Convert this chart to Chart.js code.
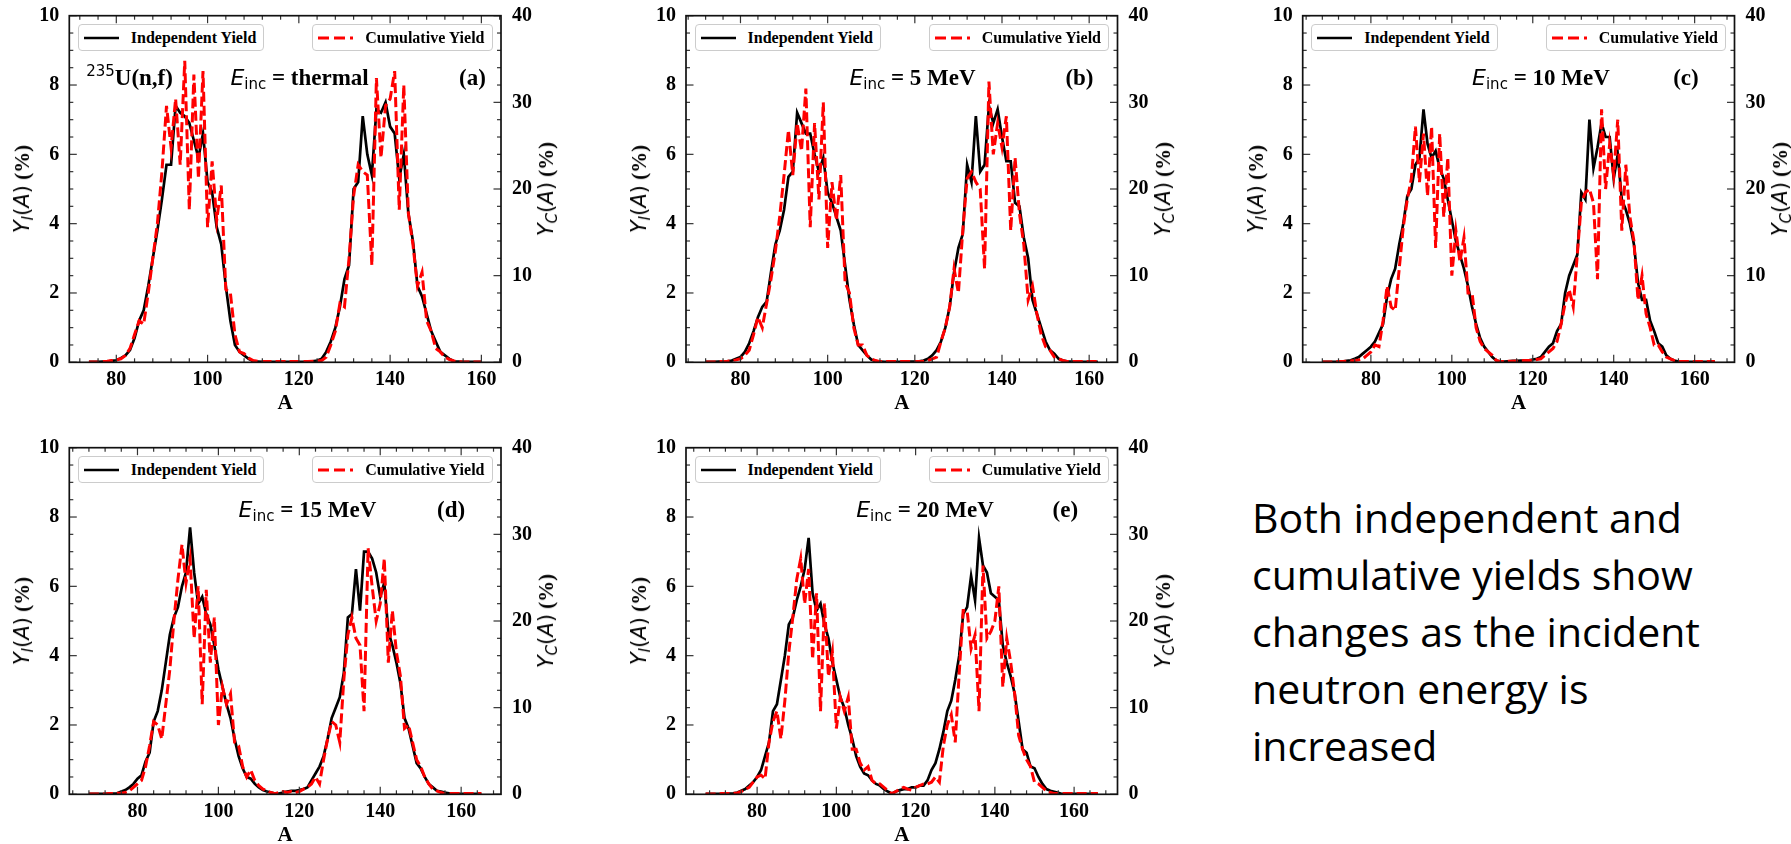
<!DOCTYPE html>
<html><head><meta charset="utf-8">
<script src="https://cdn.jsdelivr.net/npm/chart.js@4/dist/chart.umd.min.js"></script>
<style>
html,body{margin:0;padding:0;background:#fff;}
body{width:1791px;height:844px;overflow:hidden;position:relative;}
.panel{position:absolute;}
.panel canvas{position:absolute;left:0;top:0;}
.serif{font-family:'Liberation Serif','Times New Roman',serif;font-weight:bold;}
.sans{font-family:'DejaVu Sans',sans-serif;font-weight:normal;}
.it{font-style:italic;}
.ann{position:absolute;white-space:nowrap;font-family:'Liberation Serif','Times New Roman',serif;font-weight:bold;font-size:23px;line-height:23px;color:#000;}
.leg{position:absolute;height:27px;border:1px solid #cccccc;border-radius:4px;background:#fff;display:flex;align-items:center;padding:0 7px 0 5px;box-sizing:border-box;}
.leg svg{width:35px;height:6px;margin-right:12px;flex:none;}
.leg span{font-family:'Liberation Serif','Times New Roman',serif;font-weight:bold;font-size:16px;white-space:nowrap;color:#000;}
.ylab{position:absolute;transform:translate(-50%,-50%) rotate(-90deg);white-space:nowrap;font-size:21px;line-height:24px;color:#000;}
.sb{font-size:15px;position:relative;top:4px;}
#note{position:absolute;left:1252px;top:489px;font-family:'Open Sans',sans-serif;font-size:41px;line-height:57px;color:#000;white-space:nowrap;}
</style></head><body>
<div id="note">Both independent and<br>cumulative yields show<br>changes as the incident<br>neutron energy is<br>increased</div>
<script>
// ---------- tick labels ----------
const xTicks = [80, 100, 120, 140, 160];
const yLeftTicks = [0, 2, 4, 6, 8, 10];
const yRightTicks = [0, 10, 20, 30, 40];

// ---------- mass numbers (A) ----------
const massA = [74,75,76,77,78,79,80,81,82,83,84,85,86,87,88,89,90,91,92,93,94,95,96,97,98,99,100,101,102,103,104,105,106,107,108,109,110,111,112,113,114,115,116,117,118,119,120,121,122,123,124,125,126,127,128,129,130,131,132,133,134,135,136,137,138,139,140,141,142,143,144,145,146,147,148,149,150,151,152,153,154,155,156,157,158,159,160];
const massB = [72,73,74,75,76,77,78,79,80,81,82,83,84,85,86,87,88,89,90,91,92,93,94,95,96,97,98,99,100,101,102,103,104,105,106,107,108,109,110,111,112,113,114,115,116,117,118,119,120,121,122,123,124,125,126,127,128,129,130,131,132,133,134,135,136,137,138,139,140,141,142,143,144,145,146,147,148,149,150,151,152,153,154,155,156,157,158,159,160,161,162];
const massCD = [68,69,70,71,72,73,74,75,76,77,78,79,80,81,82,83,84,85,86,87,88,89,90,91,92,93,94,95,96,97,98,99,100,101,102,103,104,105,106,107,108,109,110,111,112,113,114,115,116,117,118,119,120,121,122,123,124,125,126,127,128,129,130,131,132,133,134,135,136,137,138,139,140,141,142,143,144,145,146,147,148,149,150,151,152,153,154,155,156,157,158,159,160,161,162,163,164,165];
const massE = [67,68,69,70,71,72,73,74,75,76,77,78,79,80,81,82,83,84,85,86,87,88,89,90,91,92,93,94,95,96,97,98,99,100,101,102,103,104,105,106,107,108,109,110,111,112,113,114,115,116,117,118,119,120,121,122,123,124,125,126,127,128,129,130,131,132,133,134,135,136,137,138,139,140,141,142,143,144,145,146,147,148,149,150,151,152,153,154,155,156,157,158,159,160,161,162,163,164,165,166];

// ---------- (a) thermal ----------
const yiA = [0.01,0.01,0.01,0.02,0.02,0.04,0.06,0.12,0.2,0.35,
 0.7,1.2,1.5,2.2,3.0,3.8,4.7,5.7,5.7,7.4,
 7.2,7.1,6.9,6.4,5.9,6.6,5.2,4.9,3.9,3.4,
 2.2,1.2,0.5,0.3,0.2,0.1,0.03,0.02,0.01,0.01,
 0.01,0.01,0.01,0.01,0.01,0.01,0.01,0.01,0.02,0.03,
 0.05,0.1,0.3,0.6,1.0,1.6,2.4,2.8,5.0,5.2,
 7.1,6.0,5.4,7.3,7.2,7.5,6.8,6.6,5.3,6.0,
 4.3,3.5,2.2,1.9,1.4,0.9,0.6,0.3,0.2,0.1,
 0.03,0.02,0.01,0.01,0.01,0.01,0.01];
const ycA = [0.04,0.04,0.04,0.08,0.12,0.2,0.28,0.4,0.8,1.6,
 3.2,4.8,4.4,8.0,12.0,16.0,22.0,29.6,24.8,30.4,
 22.8,34.8,17.6,33.2,21.2,33.6,15.6,23.2,16.4,20.4,
 8.4,8.0,3.2,1.2,1.0,0.48,0.2,0.12,0.08,0.08,
 0.08,0.08,0.08,0.08,0.08,0.08,0.08,0.08,0.08,0.12,
 0.16,0.2,0.6,2.0,3.6,6.8,6.4,12.0,19.2,22.8,
 22.0,21.6,11.2,32.8,23.6,29.6,30.4,33.6,17.6,32.0,
 17.2,13.6,8.8,10.4,4.8,3.6,1.6,1.2,0.6,0.32,
 0.16,0.08,0.04,0.04,0.04,0.04,0.04];

// ---------- (b) 5 MeV ----------
const yiB = [0.01,0.01,0.01,0.02,0.02,0.03,0.05,0.1,0.15,0.3,
 0.55,0.9,1.3,1.6,1.75,2.6,3.4,3.8,4.4,5.35,
 5.5,7.2,6.9,6.6,6.6,6.0,5.5,5.9,4.9,4.6,
 4.2,3.8,2.8,1.8,1.1,0.5,0.35,0.2,0.08,0.03,
 0.02,0.01,0.01,0.01,0.01,0.01,0.01,0.02,0.02,0.03,
 0.05,0.1,0.2,0.35,0.6,1.0,1.6,2.6,3.3,3.7,
 5.7,5.2,7.1,5.5,5.7,7.4,6.9,7.3,6.5,5.8,
 5.8,4.6,4.5,3.6,3.0,1.8,1.4,1.0,0.6,0.35,
 0.25,0.1,0.05,0.03,0.02,0.01,0.01,0.01,0.01,0.01,0.01];
const ycB = [0.04,0.04,0.04,0.08,0.08,0.12,0.2,0.28,0.4,0.8,
 1.4,3.2,5.2,4.0,6.8,9.6,12.8,16.8,21.6,26.8,
 21.6,27.6,24.4,31.6,15.6,27.6,18.8,30.0,13.2,20.8,
 16.4,21.6,9.2,8.0,4.0,2.0,2.0,0.8,0.4,0.2,
 0.08,0.08,0.08,0.08,0.08,0.08,0.08,0.08,0.08,0.08,
 0.12,0.2,0.4,0.6,2.4,4.0,6.4,10.8,8.0,15.2,
 21.2,22.0,20.8,20.0,10.8,32.4,24.0,27.6,24.8,28.4,
 15.2,23.6,17.2,13.6,7.2,8.8,5.6,3.2,1.8,1.4,
 0.6,0.4,0.2,0.08,0.08,0.08,0.08,0.08,0.08,0.08,0.08];

// ---------- (c) 10 MeV ----------
const yiC = [0.01,0.01,0.01,0.01,0.01,0.02,0.04,0.06,0.1,0.15,
 0.25,0.35,0.45,0.6,0.85,1.1,1.9,2.4,2.7,3.4,
 4.0,4.8,5.0,5.7,5.9,7.3,6.3,5.9,6.1,5.6,
 5.3,4.7,4.1,3.5,3.1,2.7,2.2,1.6,1.1,0.7,
 0.45,0.3,0.15,0.05,0.02,0.02,0.03,0.04,0.04,0.05,
 0.05,0.06,0.08,0.1,0.15,0.3,0.45,0.55,0.9,1.1,
 2.0,2.5,2.8,3.1,4.9,4.7,7.0,5.6,6.2,6.9,
 6.5,6.5,5.3,6.0,4.7,4.4,4.0,3.4,2.3,1.8,
 1.8,1.2,0.9,0.55,0.45,0.2,0.1,0.05,0.02,0.01,
 0.01,0.01,0.01,0.01,0.01,0.01,0.01,0.01];
const ycC = [0.04,0.04,0.04,0.04,0.08,0.08,0.12,0.16,0.2,0.28,
 0.4,0.8,1.2,2.0,1.8,4.8,8.8,6.4,6.0,10.8,
 15.6,18.8,21.2,27.2,20.8,26.4,19.2,27.2,13.2,26.4,
 16.8,23.6,10.0,15.2,11.6,14.4,8.0,8.0,4.0,2.4,
 1.6,1.2,0.8,0.2,0.08,0.08,0.12,0.12,0.16,0.16,
 0.2,0.2,0.2,0.32,0.4,0.8,1.2,1.6,2.4,4.4,
 6.8,8.4,6.4,12.4,18.4,19.6,20.0,18.4,9.6,29.2,
 20.0,25.2,21.6,28.0,15.2,22.8,16.8,14.0,7.2,10.0,
 5.6,4.0,2.0,2.0,1.2,0.6,0.4,0.2,0.08,0.08,
 0.08,0.08,0.08,0.08,0.08,0.08,0.08,0.08];

// ---------- (d) 15 MeV ----------
const yiD = [0.01,0.01,0.01,0.01,0.01,0.02,0.02,0.03,0.08,0.12,
 0.2,0.3,0.45,0.55,0.95,1.2,2.1,2.4,3.0,3.8,
 4.6,5.1,5.4,6.0,6.4,7.7,6.4,5.5,5.7,5.2,
 4.9,4.3,3.6,3.1,2.6,2.2,1.6,1.1,0.75,0.5,
 0.45,0.3,0.2,0.12,0.08,0.05,0.02,0.02,0.05,0.08,
 0.1,0.1,0.12,0.15,0.2,0.4,0.6,0.8,1.1,1.6,
 2.2,2.5,2.8,3.5,5.1,5.2,6.5,5.3,7.0,7.0,
 6.8,6.4,5.7,6.1,4.7,4.3,3.8,3.2,2.2,1.9,
 1.4,0.9,0.75,0.5,0.3,0.2,0.1,0.08,0.05,0.03,
 0.01,0.01,0.01,0.01,0.01,0.01,0.01,0.01];
const ycD = [0.04,0.04,0.04,0.04,0.04,0.08,0.08,0.12,0.12,0.2,
 0.4,0.8,1.2,1.6,3.2,5.6,8.4,8.0,6.4,10.4,
 14.4,20.0,24.8,28.8,24.4,27.2,18.0,24.0,10.4,23.6,
 15.2,20.4,8.0,12.4,10.4,11.6,6.0,5.6,3.2,2.0,
 2.8,1.6,1.0,0.6,0.4,0.2,0.08,0.2,0.32,0.2,
 0.32,0.2,0.32,0.6,0.8,1.2,2.0,1.2,4.0,6.4,
 8.4,8.0,6.0,13.2,18.4,20.4,18.0,17.2,9.6,28.4,
 24.0,20.0,22.0,27.2,15.2,21.2,16.4,13.6,7.6,8.0,
 6.0,4.0,3.2,2.0,1.2,0.6,0.4,0.2,0.08,0.08,
 0.08,0.08,0.08,0.08,0.08,0.08,0.08,0.08];

// ---------- (e) 20 MeV ----------
const yiE = [0.01,0.01,0.01,0.01,0.01,0.01,0.02,0.03,0.05,0.1,
 0.15,0.25,0.35,0.5,0.7,1.1,1.5,2.4,2.6,3.3,
 4.0,4.9,5.1,5.6,6.0,6.5,7.4,5.8,5.3,5.5,
 4.9,4.5,3.8,3.3,2.8,2.5,2.0,1.6,1.1,0.8,
 0.6,0.55,0.4,0.3,0.25,0.15,0.08,0.02,0.08,0.12,
 0.15,0.15,0.2,0.2,0.25,0.25,0.4,0.7,0.9,1.3,
 1.8,2.4,2.7,3.3,4.0,5.2,5.4,6.3,5.6,7.4,
 6.6,6.4,5.8,5.7,5.6,4.3,3.8,3.4,2.9,2.1,
 1.3,1.2,0.8,0.75,0.5,0.3,0.15,0.1,0.07,0.04,
 0.01,0.01,0.01,0.01,0.01,0.01,0.01,0.01,0.01,0.01];
const ycE = [0.04,0.04,0.04,0.04,0.08,0.08,0.08,0.12,0.16,0.32,
 0.6,0.8,1.4,2.0,2.2,1.8,6.0,8.4,9.6,6.4,
 10.8,16.4,20.4,24.8,27.2,22.0,26.0,15.6,23.2,9.6,
 22.0,13.6,16.4,7.6,11.2,9.6,11.2,5.2,5.2,3.6,
 2.8,3.2,1.6,1.2,1.2,0.8,0.4,0.08,0.32,0.6,
 0.8,0.6,0.48,0.8,1.0,1.2,1.2,1.4,2.0,1.4,
 5.6,8.0,9.2,6.0,14.0,21.2,21.2,16.8,18.4,9.6,
 26.4,18.0,18.8,20.0,24.0,12.4,18.0,15.2,11.6,6.8,
 5.2,4.0,3.2,1.4,1.2,0.8,0.4,0.2,0.08,0.08,
 0.08,0.08,0.08,0.08,0.08,0.08,0.08,0.08,0.08,0.08];

// ---------- layout / style (kept separate from data) ----------
const SERIF = "'Liberation Serif', 'Times New Roman', serif";
const W = 560, H = 420;
const panels = [
  {mass: massA,  yi: yiA, yc: ycA, energy: 'thermal', tag: '(a)', isotope: true, left: 0,    top: 0,   L: 69.3,   R: 501,    T: 15.7,  B: 362.3},
  {mass: massB,  yi: yiB, yc: ycB, energy: '5 MeV',   tag: '(b)', left: 617,  top: 0,   L: 686,    R: 1117.5, T: 15.7,  B: 362.3},
  {mass: massCD, yi: yiC, yc: ycC, energy: '10 MeV',  tag: '(c)', left: 1234, top: 0,   L: 1302.7, R: 1734.5, T: 15.7,  B: 362.3},
  {mass: massCD, yi: yiD, yc: ycD, energy: '15 MeV',  tag: '(d)', left: 0,    top: 432, L: 69.3,   R: 501,    T: 447.7, B: 794.3},
  {mass: massE,  yi: yiE, yc: ycE, energy: '20 MeV',  tag: '(e)', left: 617,  top: 432, L: 686,    R: 1117.5, T: 447.7, B: 794.3}
];
const annTextAt = 105, annTagAt = 161, annIsoAt = 73.4, annBaseY = 8;
const xMinorStep = 4, yLMinorStep = 0.5, yRMinorStep = 2;

const frameTicks = {
  id: 'frameTicks',
  afterDatasetsDraw(chart) {
    const {ctx, chartArea: a, scales} = chart;
    const xs = scales.x, yl = scales.yL, yr = scales.yR;
    ctx.save();
    ctx.strokeStyle = '#333'; ctx.lineWidth = 1.2;
    const seg = (x1, y1, x2, y2) => { ctx.beginPath(); ctx.moveTo(x1, y1); ctx.lineTo(x2, y2); ctx.stroke(); };
    for (let v = Math.ceil(xs.min / xMinorStep) * xMinorStep; v <= xs.max; v += xMinorStep) {
      const px = xs.getPixelForValue(v), len = xTicks.includes(v) ? 7.5 : 4;
      seg(px, a.bottom, px, a.bottom - len); seg(px, a.top, px, a.top + len);
    }
    for (let v = 0; v <= 10.001; v += yLMinorStep) {
      const py = yl.getPixelForValue(v), len = yLeftTicks.includes(Math.round(v * 10) / 10) ? 7.5 : 4;
      seg(a.left, py, a.left + len, py);
    }
    for (let v = 0; v <= 40.001; v += yRMinorStep) {
      const py = yr.getPixelForValue(v), len = yRightTicks.includes(v) ? 7.5 : 4;
      seg(a.right, py, a.right - len, py);
    }
    ctx.strokeStyle = '#111'; ctx.lineWidth = 1.7;
    ctx.strokeRect(a.left, a.top, a.right - a.left, a.bottom - a.top);
    ctx.restore();
  }
};

function el(tag, cls, html) { const e = document.createElement(tag); if (cls) e.className = cls; if (html !== undefined) e.innerHTML = html; return e; }

panels.forEach(p => {
  const wrap = el('div', 'panel');
  wrap.style.left = p.left + 'px'; wrap.style.top = p.top + 'px';
  wrap.style.width = W + 'px'; wrap.style.height = H + 'px';
  document.body.appendChild(wrap);
  const cv = el('canvas'); cv.width = W; cv.height = H; cv.style.width = W + 'px'; cv.style.height = H + 'px';
  wrap.appendChild(cv);

  const a0 = p.mass[0], a1 = p.mass[p.mass.length - 1], span = a1 - a0;
  const tickFont = {family: SERIF, weight: 'bold', size: 20};
  const chart = new Chart(cv, {
    type: 'line',
    data: {datasets: [
      {label: 'Cumulative Yield', data: p.mass.map((m, i) => ({x: m, y: p.yc[i]})), yAxisID: 'yR',
       borderColor: '#ff0000', borderWidth: 3, borderDash: [10, 4], pointRadius: 0, fill: false, tension: 0, order: 0},
      {label: 'Independent Yield', data: p.mass.map((m, i) => ({x: m, y: p.yi[i]})), yAxisID: 'yL',
       borderColor: '#000000', borderWidth: 2.7, pointRadius: 0, fill: false, tension: 0, order: 1}
    ]},
    options: {
      responsive: false, animation: false, events: [],
      layout: {padding: {top: p.T - p.top, left: 0, right: 0, bottom: 0}, autoPadding: false},
      plugins: {legend: {display: false}, tooltip: {enabled: false}},
      scales: {
        x: {type: 'linear', position: 'bottom', min: a0 - 0.05 * span, max: a1 + 0.05 * span,
            afterBuildTicks: s => { s.ticks = xTicks.map(v => ({value: v})); },
            afterFit: s => { s.height = H - (p.B - p.top); s.paddingLeft = s.paddingRight = s.paddingTop = s.paddingBottom = 0; },
            grid: {display: false, drawTicks: false}, border: {display: false},
            ticks: {font: tickFont, color: '#000', padding: 6, autoSkip: false, maxRotation: 0},
            title: {display: true, text: 'A', font: {family: SERIF, weight: 'bold', size: 21}, color: '#000', padding: {top: 0, bottom: 3.5}}},
        yL: {type: 'linear', position: 'left', min: 0, max: 10,
            afterBuildTicks: s => { s.ticks = yLeftTicks.map(v => ({value: v})); },
            afterFit: s => { s.width = p.L - p.left; s.paddingLeft = s.paddingRight = s.paddingTop = s.paddingBottom = 0; },
            grid: {display: false, drawTicks: false}, border: {display: false},
            ticks: {font: tickFont, color: '#000', padding: 10, autoSkip: false}},
        yR: {type: 'linear', position: 'right', min: 0, max: 40,
            afterBuildTicks: s => { s.ticks = yRightTicks.map(v => ({value: v})); },
            afterFit: s => { s.width = p.left + W - p.R; s.paddingLeft = s.paddingRight = s.paddingTop = s.paddingBottom = 0; },
            grid: {display: false, drawTicks: false}, border: {display: false},
            ticks: {font: tickFont, color: '#000', padding: 11, autoSkip: false}}
      }
    },
    plugins: [frameTicks]
  });

  const ca = chart.chartArea, xs = chart.scales.x, yl = chart.scales.yL;
  const midY = (ca.top + ca.bottom) / 2;

  // y-axis titles
  const tl = el('div', 'ylab', '<span class="sans it">Y</span><span class="sans it sb">I</span><span class="sans">(</span><span class="sans it">A</span><span class="sans">)</span><span class="serif"> (%)</span>');
  tl.style.left = (ca.left - 46) + 'px'; tl.style.top = midY + 'px'; wrap.appendChild(tl);
  const tr = el('div', 'ylab', '<span class="sans it">Y</span><span class="sans it sb">C</span><span class="sans">(</span><span class="sans it">A</span><span class="sans">)</span><span class="serif"> (%)</span>');
  tr.style.left = (ca.right + 46) + 'px'; tr.style.top = midY + 'px'; wrap.appendChild(tr);

  // legends
  const ds = chart.data.datasets;
  const l1 = el('div', 'leg', '<svg viewBox="0 0 35 6"><line x1="0" y1="3" x2="35" y2="3" stroke="#000" stroke-width="2.7"/></svg><span>' + ds[1].label + '</span>');
  l1.style.left = (ca.left + 8.5) + 'px'; l1.style.top = (ca.top + 8.3) + 'px'; wrap.appendChild(l1);
  const l2 = el('div', 'leg', '<svg viewBox="0 0 35 6"><line x1="0" y1="3" x2="35" y2="3" stroke="#ff0000" stroke-width="3" stroke-dasharray="11 5"/></svg><span>' + ds[0].label + '</span>');
  l2.style.right = (W - ca.right + 8.5) + 'px'; l2.style.top = (ca.top + 8.3) + 'px'; wrap.appendChild(l2);

  // annotations (baseline at y = annBaseY on the left axis)
  const baseTop = yl.getPixelForValue(annBaseY) - 19.3;
  const e1 = el('div', 'ann', '<span class="sans it" style="font-size:22px">E</span><span class="sans" style="font-size:15px;position:relative;top:4px">inc</span> = ' + p.energy);
  e1.style.left = xs.getPixelForValue(annTextAt) + 'px'; e1.style.top = baseTop + 'px'; wrap.appendChild(e1);
  const e2 = el('div', 'ann', p.tag);
  e2.style.left = xs.getPixelForValue(annTagAt) + 'px'; e2.style.top = baseTop + 'px'; e2.style.transform = 'translateX(-100%)'; wrap.appendChild(e2);
  if (p.isotope) {
    const e3 = el('div', 'ann', '<span class="sans" style="font-size:15px;position:relative;top:-9px">235</span>U(n,f)');
    e3.style.left = xs.getPixelForValue(annIsoAt) + 'px'; e3.style.top = baseTop + 'px'; wrap.appendChild(e3);
  }
});
</script>
</body></html>
